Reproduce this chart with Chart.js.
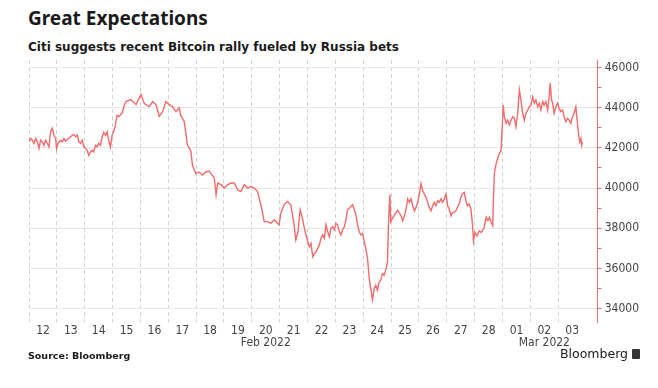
<html>
<head>
    <script src="https://cdn.jsdelivr.net/npm/chart.js@4.4.3/dist/chart.umd.min.js"></script>
    <style>
        body { margin: 0; width: 658px; height: 388px; background: #fff; position: relative; overflow: hidden; }
        #t1 { position: absolute; left: 28px; top: 5px; font: bold 19px "Noto Sans"; color: #1a1a1a; }
        #t2 { position: absolute; left: 28px; top: 40px; font: bold 12px "DejaVu Sans"; color: #1a1a1a; }
        #src { position: absolute; left: 28px; top: 350px; font: bold 9.5px "DejaVu Sans"; color: #1a1a1a; }
        #brand { position: absolute; left: 560px; top: 346px; font: 12.5px "DejaVu Sans"; color: #1a1a1a; }
        #brand span { display: inline-block; width: 8px; height: 10px; background: #333; margin-left: 4px; vertical-align: -1px; border-radius: 1px; }
        #box { position: absolute; left: 0; top: 0; width: 658px; height: 388px; }
    </style>
</head>
<body>
    <div id="t1">Great Expectations</div>
    <div id="t2">Citi suggests recent Bitcoin rally fueled by Russia bets</div>
    <div id="box"><canvas id="mychart"></canvas></div>
    <div id="src">Source: Bloomberg</div>
    <div id="brand">Bloomberg<span></span></div>
    <script>
        // hours since Feb 12 00:00, and price in USD
        hours = [0, 1.5, 2.9, 4.3, 5.8, 7.2, 8.6, 10.0, 11.5, 12.9, 14.3, 15.8, 17.2, 18.6, 20.1, 21.5, 22.9, 23.8,
            24.9, 27.2, 28.7, 30.1, 31.5, 33.0, 34.3, 35.8, 37.3, 38.6, 40.1, 41.6, 42.9, 44.4, 45.9, 47.2,
            48.7, 50.1, 51.5, 53.0, 54.4, 55.8, 57.3, 58.7, 60.1, 61.6, 63.0, 64.4, 65.9, 67.3, 68.7, 70.2,
            71.6, 73.0, 74.4, 75.9, 77.3, 78.7, 80.2, 82.2, 83.6, 87.9, 92.2, 96.5, 99.4, 103.6, 106.5, 109.4,
            112.2, 115.1, 118.0, 120.8, 123.7, 126.6, 129.4, 130.9, 133.7, 136.5, 139.5, 140.8, 143.7, 146.6,
            149.4, 152.3, 155.2, 158.0, 159.7, 161.2, 162.6, 165.5, 168.3, 171.2, 174.1, 176.9, 179.8, 182.6,
            185.5, 188.4, 191.2, 194.1, 197.0, 199.8, 201.3, 202.7, 205.6, 208.4, 211.2, 214.2, 215.5, 217.0,
            219.8, 222.7, 225.6, 228.4, 229.9, 231.8, 233.6, 235.6, 237.3, 238.7, 240.2, 241.6, 243.0, 244.5,
            245.9, 247.3, 248.8, 250.2, 251.6, 253.1, 254.5, 255.9, 257.4, 258.8, 260.2, 261.6, 263.1, 264.5,
            265.9, 267.4, 268.8, 270.2, 271.7, 273.1, 274.5, 276.0, 277.4, 278.8, 280.3, 281.7, 283.1, 284.6,
            285.9, 287.4, 288.9, 290.2, 291.7, 293.2, 294.5, 296.0, 297.5, 298.8, 300.3, 301.7, 303.1, 304.6,
            306.0, 307.4, 308.9, 309.7, 310.9, 311.7, 313.2, 316.0, 317.7, 320.6, 322.0, 323.5, 324.9, 326.3,
            327.8, 329.2, 330.6, 332.1, 333.5, 334.9, 336.4, 337.8, 339.2, 340.6, 342.1, 343.5, 344.9, 346.4,
            347.8, 349.2, 350.7, 352.1, 353.5, 355.0, 356.4, 357.8, 359.3, 360.7, 362.1, 363.6, 364.9, 366.4,
            367.9, 369.2, 370.7, 372.2, 373.5, 375.0, 376.5, 377.8, 379.3, 380.8, 382.1, 383.0, 384.2, 385.9,
            387.9, 389.8, 392.2, 393.9, 395.4, 396.7, 398.2, 399.6, 400.2, 401.0, 402.5, 403.9, 405.3, 406.8,
            407.6, 408.7, 409.6, 411.1, 412.5, 413.9, 415.4, 416.8, 418.2, 419.6, 421.1, 422.5, 423.9, 425.4,
            426.8, 428.2, 429.7, 431.1, 432.5, 434.0, 435.4, 436.8, 438.3, 439.7, 441.1, 442.6, 443.9, 445.4,
            446.9, 448.2, 449.1, 450.3, 451.2, 452.5, 454.0, 455.5, 456.8, 458.3, 459.8, 461.1, 462.6, 464.0,
            465.4, 466.9, 468.3, 469.7, 471.2, 472.0, 472.9, 473.8, 474.6, 475.5, 476.3, 476.9];
        price = [42300, 42470, 42380, 42220, 42470, 42300, 41970, 42380, 42300, 42130, 42380, 42220, 42050, 42800, 42970, 42630, 42470, 41970,
            42220, 42380, 42300, 42470, 42330, 42430, 42470, 42550, 42630, 42670, 42550, 42630, 42300, 42220, 42380, 42050,
            41970, 41880, 41630, 41800, 41880, 41800, 42130, 42050, 42220, 42130, 42550, 42770, 42630, 42800, 42380, 42050,
            42630, 42800, 43130, 43630, 43550, 43630, 43720, 44130, 44300, 44400, 44150, 44650, 44200, 44050, 44300, 44150,
            43570, 43800, 44300, 44150, 44050, 43800, 43980, 43600, 43320, 42150, 41830, 41150, 40720, 40800,
            40650, 40800, 40850, 40630, 40500, 39670, 40250, 40170, 40000, 40170, 40250, 40250, 39920, 39830,
            40170, 40000, 40080, 40000, 39830, 39170, 38750, 38330, 38330, 38250, 38420, 38250, 38170, 38750,
            39170, 39330, 39170, 38170, 37420, 37830, 38920, 38500, 38000, 37670, 37330, 37080, 37250, 36580,
            36750, 36830, 37000, 37170, 37500, 37670, 37500, 38170, 37830, 37580, 38000, 38080, 37920, 38250,
            38170, 37830, 37670, 37920, 38080, 38420, 38920, 39000, 39080, 39170, 38920, 38670, 38170, 37830,
            37670, 37750, 37330, 37000, 36500, 35500, 35000, 34450, 35000, 35170, 34920, 35330, 35420, 35750,
            35670, 35920, 36330, 38170, 39670, 38330, 38500, 38750, 38900, 38620, 38370, 38620, 38960, 39460,
            39290, 39460, 39120, 38870, 39040, 39290, 39710, 40210, 39880, 39710, 39540, 39290, 39040, 38870,
            39120, 39290, 39120, 39370, 39290, 39460, 39290, 39460, 39710, 39120, 38960, 38620, 38790, 38790,
            38870, 39040, 39210, 39540, 39710, 39790, 39370, 39120, 39210, 38960, 38210, 37370, 37790, 37620,
            37870, 37790, 38040, 38550, 38380, 38550, 38300, 38130, 39550, 40720, 41220, 41470, 41720, 41880,
            42880, 44130, 43550, 43220, 43380, 43130, 43380, 43550, 43470, 43050, 43720, 44880, 44380, 43720,
            43380, 43720, 43880, 44050, 44130, 44550, 44220, 44380, 44050, 44220, 43880, 44300, 44130, 44300,
            43880, 44550, 45220, 44380, 44220, 43720, 44050, 44220, 43970, 43800, 43880, 43550, 43300, 43470,
            43380, 43220, 43550, 43720, 44050, 43550, 43050, 42550, 42300, 42470, 42130, 42300];
        dayLabels = ["12", "13", "14", "15", "16", "17", "18", "19", "20", "21", "22", "23", "24", "25", "26", "27", "28", "01", "02", "03"];
        monthLabels = { 8: "Feb 2022", 18: "Mar 2022" };
        yTicks = [34000, 35000, 36000, 37000, 38000, 39000, 40000, 41000, 42000, 43000, 44000, 45000, 46000];
        tickFont = { family: "DejaVu Sans Condensed", size: 12, lineHeight: 1.0 };

        points = hours.map((h, i) => ({ x: h, y: price[i] }));

        new Chart(document.querySelector("#mychart"), {
            type: "line",
            data: {
                datasets: [{
                    data: points,
                    borderColor: "#f36a6a",
                    borderWidth: 1.4,
                    pointRadius: 0,
                    tension: 0
                }]
            },
            options: {
                responsive: true,
                maintainAspectRatio: false,
                animation: false,
                layout: { padding: { top: 60, left: 29, right: 16, bottom: 36 } },
                plugins: { legend: { display: false }, tooltip: { enabled: false } },
                scales: {
                    x: {
                        type: "linear",
                        min: 0,
                        max: 490,
                        afterBuildTicks: function (scale) {
                            scale.ticks = dayLabels.map((d, i) => ({ value: i * 24 }));
                        },
                        grid: { color: "#d2d2d2", drawTicks: false },
                        border: { display: false, dash: [4, 3] },
                        ticks: {
                            autoSkip: false,
                            maxRotation: 0,
                            padding: 3,
                            labelOffset: 14,
                            color: "#444",
                            font: tickFont,
                            callback: function (v, i) {
                                return monthLabels[i] ? [dayLabels[i], monthLabels[i]] : dayLabels[i];
                            }
                        }
                    },
                    y: {
                        position: "right",
                        min: 33340,
                        max: 46370,
                        afterBuildTicks: function (scale) {
                            scale.ticks = yTicks.map(v => ({ value: v }));
                        },
                        grid: {
                            color: c => (c.tick && c.tick.value % 2000 === 0) ? "#e6e6e6" : "rgba(0,0,0,0)",
                            tickColor: "#f07070",
                            tickLength: 4
                        },
                        border: { color: "#f07070" },
                        ticks: {
                            autoSkip: false,
                            padding: 3,
                            color: "#444",
                            font: tickFont,
                            callback: v => v % 2000 === 0 ? String(v) : ""
                        }
                    }
                }
            }
        });
    </script>
</body>
</html>
